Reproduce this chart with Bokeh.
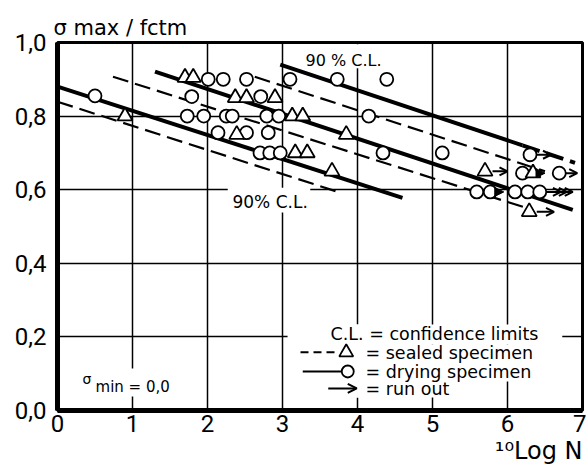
from bokeh.plotting import figure
from bokeh.models import Range1d, FixedTicker, Label, Arrow, OpenHead, NormalHead, ColumnDataSource, Title
from bokeh.embed import file_html
from bokeh.resources import INLINE

# ---------------- data ----------------
x_ticks = [0, 1, 2, 3, 4, 5, 6, 7]
y_ticks = [0.0, 0.2, 0.4, 0.6, 0.8, 1.0]
y_tick_labels = ["0,0", "0,2", "0,4", "0,6", "0,8", "1,0"]

# drying specimens (circles): 10log N, sigma_max/fctm
drying_logn = [0.50, 1.73, 1.79, 1.95, 2.01, 2.21, 2.25, 2.33, 2.14, 2.52, 2.71, 2.52,
               2.81, 2.79, 2.95, 2.70, 2.83, 2.97, 3.10, 3.73, 4.39, 4.15, 4.34, 5.13,
               6.30, 6.20, 6.69, 5.59, 5.77, 6.10, 6.27, 6.43]
drying_ratio = [0.855, 0.800, 0.853, 0.800, 0.900, 0.900, 0.800, 0.800, 0.755, 0.900, 0.853, 0.755,
                0.755, 0.800, 0.800, 0.700, 0.700, 0.700, 0.900, 0.900, 0.900, 0.800, 0.700, 0.700,
                0.695, 0.645, 0.645, 0.594, 0.594, 0.594, 0.594, 0.594]

# sealed specimens (triangles)
sealed_logn = [0.90, 1.70, 1.81, 2.37, 2.52, 2.90, 2.39, 3.13, 3.27, 3.17, 3.33, 3.85,
               3.66, 5.70, 6.34, 6.29]
sealed_ratio = [0.800, 0.905, 0.905, 0.850, 0.850, 0.850, 0.750, 0.800, 0.800, 0.700, 0.700, 0.750,
                0.650, 0.650, 0.645, 0.540]

# run outs (arrows)
runout_start = [6.39, 6.78, 5.80, 6.39, 6.41, 5.85, 6.52]
runout_end = [6.58, 6.93, 6.00, 6.62, 6.50, 5.95, 6.87]
runout_ratio = [0.695, 0.645, 0.650, 0.540, 0.645, 0.594, 0.594]
runout_head = ["open", "open", "open", "open", "filled", "filled", "triple"]

# regression line and 90 % confidence limits, drying (heavy lines)
dry_x0 = [0.00, 1.30, 2.97]
dry_y0 = [0.880, 0.921, 0.940]
dry_x1 = [4.60, 6.87, 6.90]
dry_y1 = [0.578, 0.545, 0.673]
upper_cl_dashed_from = 6.20

# regression line and 90 % confidence limits, sealed (dashed lines)
seal_x0 = [0.00, 0.74, 2.63]
seal_y0 = [0.839, 0.907, 0.907]
seal_x1 = [3.74, 6.26, 6.50]
seal_y1 = [0.594, 0.550, 0.650]

# ---------------- figure ----------------
p = figure(width=586, height=472, x_range=Range1d(0, 7), y_range=Range1d(0, 1.0),
           output_backend="svg", toolbar_location=None, title=None,
           min_border_left=57, min_border_right=4, min_border_top=42, min_border_bottom=62)
p.background_fill_color = "white"
p.border_fill_color = "white"
p.outline_line_color = "black"
p.outline_line_width = 3
p.outline_line_alpha = 1.0

p.xaxis.ticker = FixedTicker(ticks=x_ticks)
p.yaxis.ticker = FixedTicker(ticks=y_ticks)
p.yaxis.major_label_overrides = {t: s for t, s in zip(y_ticks, y_tick_labels)}
for ax in (p.xaxis, p.yaxis):
    ax.axis_line_width = 5
    ax.axis_line_color = "black"
    ax.major_tick_in = 0
    ax.major_tick_out = 0
    ax.minor_tick_line_color = None
    ax.major_label_text_font = "Roboto"
    ax.major_label_text_font_size = "24px"
    ax.major_label_text_color = "black"
p.xaxis.major_label_standoff = 4
p.yaxis.major_label_standoff = 11

for g in (p.xgrid, p.ygrid):
    g.grid_line_color = "black"
    g.grid_line_width = 1.5
    g.grid_line_alpha = 1.0

# axis titles
p.add_layout(Title(text="σ max / fctm", align="left", offset=-4, standoff=6,
                   text_font="DejaVu Sans", text_font_size="21px", text_font_style="normal",
                   text_color="black"), "above")
p.add_layout(Title(text="¹⁰Log N", align="right", offset=0, standoff=0,
                   text_font="DejaVu Sans", text_font_size="24px", text_font_style="normal",
                   text_color="black"), "below")

# white masks (gaps in the grid behind texts)
mask_left = [3.24, 2.27, 0.28, 3.07, 3.07, 3.07, 3.07]
mask_right = [4.40, 3.37, 1.48, 4.10, 6.73, 6.51, 5.40]
mask_bottom = [0.930, 0.538, 0.038, 0.035, 0.179, 0.079, 0.035]
mask_top = [0.995, 0.605, 0.114, 0.234, 0.234, 0.179, 0.079]
p.quad(left=mask_left, right=mask_right, bottom=mask_bottom, top=mask_top,
       fill_color="white", line_color=None)

# heavy lines (drying)
solid_x1 = list(dry_x1)
solid_y1 = list(dry_y1)
i = 2
t = (upper_cl_dashed_from - dry_x0[i]) / (dry_x1[i] - dry_x0[i])
split_y = dry_y0[i] + t * (dry_y1[i] - dry_y0[i])
solid_x1[i] = upper_cl_dashed_from
solid_y1[i] = split_y
p.segment(x0=dry_x0, y0=dry_y0, x1=solid_x1, y1=solid_y1, line_color="black", line_width=4)
p.segment(x0=[upper_cl_dashed_from], y0=[split_y], x1=[dry_x1[i]], y1=[dry_y1[i]],
          line_color="black", line_width=4, line_dash="18 7")

# dashed lines (sealed)
p.segment(x0=seal_x0, y0=seal_y0, x1=seal_x1, y1=seal_y1, line_color="black",
          line_width=2.2, line_dash="16 7")

# markers
p.scatter(drying_logn, drying_ratio, marker="circle", size=13, fill_color="white",
          line_color="black", line_width=1.8)
p.scatter(sealed_logn, sealed_ratio, marker="triangle", size=15, fill_color="white",
          line_color="black", line_width=1.8)

# run-out arrows
def arrows(idx, head_factory):
    if not idx:
        return
    src = ColumnDataSource(dict(x0=[runout_start[k] for k in idx], x1=[runout_end[k] for k in idx],
                                y=[runout_ratio[k] for k in idx]))
    p.add_layout(Arrow(source=src, x_start="x0", y_start="y", x_end="x1", y_end="y",
                       line_width=2, line_color="black", end=head_factory()))

arrows([k for k, h in enumerate(runout_head) if h == "open"],
       lambda: OpenHead(size=8, line_width=2, line_color="black"))
arrows([k for k, h in enumerate(runout_head) if h == "filled"],
       lambda: NormalHead(size=9, line_width=1, line_color="black", fill_color="black"))
for k, h in enumerate(runout_head):
    if h == "triple":
        span = runout_end[k] - runout_start[k]
        for f in (0.55, 0.775, 1.0):
            src = ColumnDataSource(dict(x0=[runout_start[k]], x1=[runout_start[k] + f * span],
                                        y=[runout_ratio[k]]))
            p.add_layout(Arrow(source=src, x_start="x0", y_start="y", x_end="x1", y_end="y",
                               line_width=2, line_color="black",
                               end=OpenHead(size=8, line_width=2, line_color="black")))

# ---------------- texts ----------------
def lab(x, y, text, size, font="DejaVu Sans"):
    p.add_layout(Label(x=x, y=y, text=text, text_font=font, text_font_size=size, text_color="black",
                       text_baseline="alphabetic", text_align="left", y_offset=5))

# confidence limit labels
lab(3.307, 0.9375, "90 % C.L.", "16px")
lab(2.333, 0.552, "90% C.L.", "17px")

# sigma_min
lab(0.333, 0.0707, "σ", "14px")
lab(0.507, 0.049, "min = 0,0", "15px")

# legend
lab(3.64, 0.193, "C.L. = confidence limits", "17.5px")
lab(4.107, 0.144, "= sealed specimen", "17.5px")
lab(4.107, 0.0897, "= drying specimen", "17.5px")
lab(4.107, 0.046, "= run out", "17.5px")

p.line([3.24, 3.75], [0.158, 0.158], line_color="black", line_width=2, line_dash="8 5")
p.scatter([3.85], [0.158], marker="triangle", size=14, fill_color="white", line_color="black", line_width=1.8)
p.line([3.27, 3.78], [0.106, 0.106], line_color="black", line_width=2)
p.scatter([3.87], [0.106], marker="circle", size=12, fill_color="white", line_color="black", line_width=1.8)
leg_src = ColumnDataSource(dict(x0=[3.61], x1=[3.99], y=[0.06]))
p.add_layout(Arrow(source=leg_src, x_start="x0", y_start="y", x_end="x1", y_end="y",
                   line_width=2, line_color="black",
                   end=OpenHead(size=9, line_width=2, line_color="black")))

open("out.html", "w").write(file_html(p, INLINE))
